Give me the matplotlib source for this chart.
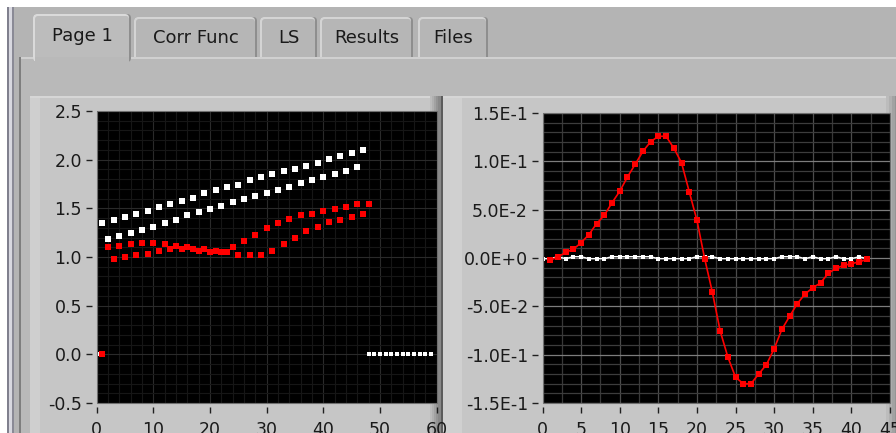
import matplotlib
matplotlib.use("Agg")
import matplotlib.pyplot as plt
from matplotlib.patches import Rectangle, FancyBboxPatch
from matplotlib.transforms import IdentityTransform
from matplotlib.ticker import MultipleLocator

W, H = 896, 433

# ---- data: left graph (Page 1) ----
left_white_a_x = list(range(1, 48, 2))
left_white_a_y = [1.346, 1.380, 1.411, 1.445, 1.476, 1.510, 1.545, 1.576, 1.610, 1.661,
                  1.692, 1.723, 1.740, 1.791, 1.822, 1.856, 1.887, 1.904, 1.938, 1.969,
                  2.004, 2.038, 2.069, 2.103]
left_white_b_x = list(range(2, 47, 2))
left_white_b_y = [1.182, 1.216, 1.247, 1.281, 1.312, 1.346, 1.380, 1.428, 1.462, 1.493,
                  1.527, 1.562, 1.593, 1.627, 1.661, 1.692, 1.723, 1.757, 1.791, 1.822,
                  1.856, 1.887, 1.922]
left_red_a_x = list(range(2, 49, 2))
left_red_a_y = [1.099, 1.116, 1.134, 1.147, 1.147, 1.134, 1.116, 1.099, 1.065, 1.048,
                1.048, 1.099, 1.164, 1.229, 1.295, 1.346, 1.394, 1.428, 1.445, 1.476,
                1.493, 1.510, 1.545, 1.545]
left_red_b_x = list(range(3, 48, 2))
left_red_b_y = [0.983, 1.000, 1.017, 1.034, 1.065, 1.082, 1.082, 1.082, 1.082, 1.065,
                1.048, 1.017, 1.017, 1.017, 1.065, 1.134, 1.199, 1.264, 1.312, 1.363,
                1.380, 1.411, 1.445]
left_white_zero_x = [0, 48, 49, 50, 51, 52, 53, 54, 55, 56, 57, 58, 59]
left_red_zero_x = [1]
left_xticks = [0, 10, 20, 30, 40, 50, 60]
left_yticks = [-0.5, 0.0, 0.5, 1.0, 1.5, 2.0, 2.5]
left_ylabels = ["-0.5", "0.0", "0.5", "1.0", "1.5", "2.0", "2.5"]

# ---- data: right graph ----
right_x = list(range(0, 43))
right_red_x = list(range(1, 43))
right_red_y = [-0.0021, 0.0010, 0.0059, 0.0090, 0.0159, 0.0241, 0.0355, 0.0441, 0.0572, 0.0690,
               0.0838, 0.0969, 0.1103, 0.1203, 0.1259, 0.1259, 0.1138, 0.0986, 0.0686, 0.0390,
               -0.0007, -0.0355, -0.0752, -0.1024, -0.1234, -0.1300, -0.1300, -0.1200, -0.1103,
               -0.0938, -0.0738, -0.0603, -0.0472, -0.0372, -0.0307, -0.0259, -0.0159, -0.0107,
               -0.0076, -0.0059, -0.0041, -0.0014]
right_white_y = [-0.0007, -0.0007, 0.0014, -0.0007, 0.0014, 0.0014, -0.0007, -0.0007, -0.0007,
                 0.0014, 0.0014, 0.0014, 0.0014, 0.0014, 0.0014, -0.0007, -0.0007, -0.0007,
                 -0.0007, -0.0007, 0.0014, 0.0014, 0.0014, -0.0007, -0.0007, -0.0007, -0.0007,
                 -0.0007, -0.0007, -0.0007, -0.0007, 0.0014, 0.0014, 0.0014, -0.0007, 0.0014,
                 -0.0007, -0.0007, 0.0014, -0.0007, -0.0007, 0.0014, -0.0007]
right_xticks = [0, 5, 10, 15, 20, 25, 30, 35, 40, 45]
right_yticks = [-0.15, -0.10, -0.05, 0.0, 0.05, 0.10, 0.15]
right_ylabels = ["-1.5E-1", "-1.0E-1", "-5.0E-2", "0.0E+0", "5.0E-2", "1.0E-1", "1.5E-1"]

tab_names = ["Page 1", "Corr Func", "LS", "Results", "Files"]
tab_edges = [(33, 131), (134, 257), (260, 317), (320, 413), (418, 488)]

plt.rcParams['font.family'] = ['DejaVu Sans']
fig = plt.figure(figsize=(W / 100, H / 100), dpi=100, facecolor='#b4b4b4')


def box(x0, y0, x1, y1, fc, r=0, z=0):
    p = FancyBboxPatch((x0, H - y1), x1 - x0, y1 - y0,
                       boxstyle=f"round,pad=0,rounding_size={r}",
                       transform=IdentityTransform(), facecolor=fc,
                       edgecolor='none', zorder=z)
    fig.add_artist(p)
    return p


# window chrome
box(0, 0, W, 7, 'white', z=0)
box(0, 0, 7, H, 'white', z=0)
box(7, 7, 9, H, '#80808e', z=0)
box(9, 7, 12, H, '#d8d8e0', z=0)
box(12, 7, 14, H, '#8a8a96', z=0)

# tabs
for i, (name, (a, b)) in enumerate(zip(tab_names, tab_edges)):
    if i == 0:
        continue
    box(a, 17, b, 64, '#8e8e8e', r=4, z=1)
    box(a, 17, b - 2, 64, '#d4d4d4', r=4, z=1)
    box(a + 2, 19, b - 2, 64, '#b6b6b6', r=3, z=1)
    fig.text((a + b) / 2 / W, 1 - 38 / H, name, ha='center', va='center',
             fontsize=13, color='#1a1a1a', zorder=4)

# tab page body
box(19, 57, W, H, '#d0d0d0', z=2)
box(19, 59, W, H, '#b9b9b9', z=2)
box(19, 57, 21, H, '#7e7e7e', z=2)

# selected tab
a, b = tab_edges[0]
box(a, 14, b, 62, '#8e8e8e', r=4, z=3)
box(a, 14, b - 2, 62, '#dadada', r=4, z=3)
box(a + 2, 16, b - 2, 62, '#bcbcbc', r=3, z=3)
box(a + 2, 57, b - 2, 62, '#b9b9b9', z=3)
fig.text((a + b) / 2 / W, 1 - 36 / H, tab_names[0], ha='center', va='center',
         fontsize=13, color='#1a1a1a', zorder=4)

# graph panels
box(30, 96, 441, H, '#d6d6d6', z=2)
box(30, 98, 441, H, '#c6c6c6', z=2)
box(30, 98, 40, H, '#cfcfcf', z=2)
for k, c in enumerate(['#bcbcbc', '#b0b0b0', '#a2a2a2', '#949494', '#888888']):
    box(430 + 2 * k, 96, 441, H, c, z=2)
box(441, 96, 443, H, '#5c5c5c', z=2)
box(443, 96, W, H, '#d6d6d6', z=2)
box(443, 98, W, H, '#c6c6c6', z=2)
box(443, 98, 462, H, '#d0d0d0', z=2)
for k, c in enumerate(['#bcbcbc', '#b0b0b0', '#a2a2a2', '#949494']):
    box(886 + 3 * k, 96, W, H, c, z=2)


def style_axes(ax, xticks, yticks, ylabels):
    ax.set_facecolor('black')
    for s in ax.spines.values():
        s.set_visible(False)
    ax.spines['left'].set_position(('outward', 3))
    ax.spines['bottom'].set_position(('outward', 3))
    ax.set_xticks(xticks)
    ax.set_xticklabels([str(t) for t in xticks])
    ax.set_yticks(yticks)
    ax.set_yticklabels(ylabels)
    ax.tick_params(which='major', length=4.5, width=1.0, color='#202020',
                   labelsize=12.5, labelcolor='#1a1a1a', pad=3)
    ax.tick_params(axis='x', pad=5.5)
    ax.tick_params(which='minor', length=0)
    ax.add_patch(Rectangle((0, 0), 1, 1, transform=ax.transAxes, fill=False,
                           edgecolor='#707070', lw=0.8, zorder=6, clip_on=False))
    ax.set_axisbelow(True)


# left graph
ax1 = fig.add_axes([96.5 / W, 30 / H, 340 / W, 292 / H], zorder=5)
ax1.set_xlim(0, 60)
ax1.set_ylim(-0.5, 2.5)
style_axes(ax1, left_xticks, left_yticks, left_ylabels)
ax1.xaxis.set_minor_locator(MultipleLocator(2))
ax1.yaxis.set_minor_locator(MultipleLocator(0.1))
ax1.grid(which='major', color='#2a2a2a', lw=0.8)
ax1.grid(which='minor', color='#161616', lw=0.8)
ms = 3.9
ax1.plot(left_white_a_x, left_white_a_y, 's', color='white', ms=ms, mew=0)
ax1.plot(left_white_b_x, left_white_b_y, 's', color='white', ms=ms, mew=0)
ax1.plot(left_white_zero_x, [0.0] * len(left_white_zero_x), 's', color='white', ms=3.0, mew=0)
ax1.plot(left_red_a_x, left_red_a_y, 's', color='#ff0000', ms=ms, mew=0)
ax1.plot(left_red_b_x, left_red_b_y, 's', color='#ff0000', ms=ms, mew=0)
ax1.plot(left_red_zero_x, [0.0] * len(left_red_zero_x), 's', color='#ff0000', ms=ms, mew=0)

# right graph
ax2 = fig.add_axes([542.5 / W, 30 / H, 347.5 / W, 290 / H], zorder=5)
ax2.set_xlim(0, 45)
ax2.set_ylim(-0.15, 0.15)
style_axes(ax2, right_xticks, right_yticks, right_ylabels)
ax2.xaxis.set_minor_locator(MultipleLocator(2.5))
ax2.yaxis.set_minor_locator(MultipleLocator(0.01))
ax2.xaxis.grid(which='major', color='#4c4c4c', lw=0.9)
ax2.xaxis.grid(which='minor', color='#383838', lw=0.9)
ax2.yaxis.grid(which='major', color='#7c7c7c', lw=0.9)
ax2.yaxis.grid(which='minor', color='#3c3c3c', lw=0.9)
ax2.plot(right_x, right_white_y, '-s', color='white', lw=1.0, ms=3.5, mew=0)
ax2.plot(right_red_x, right_red_y, '-s', color='#ff0000', lw=1.2, ms=3.7, mew=0)

fig.savefig('out.png', dpi=100, facecolor=fig.get_facecolor())
